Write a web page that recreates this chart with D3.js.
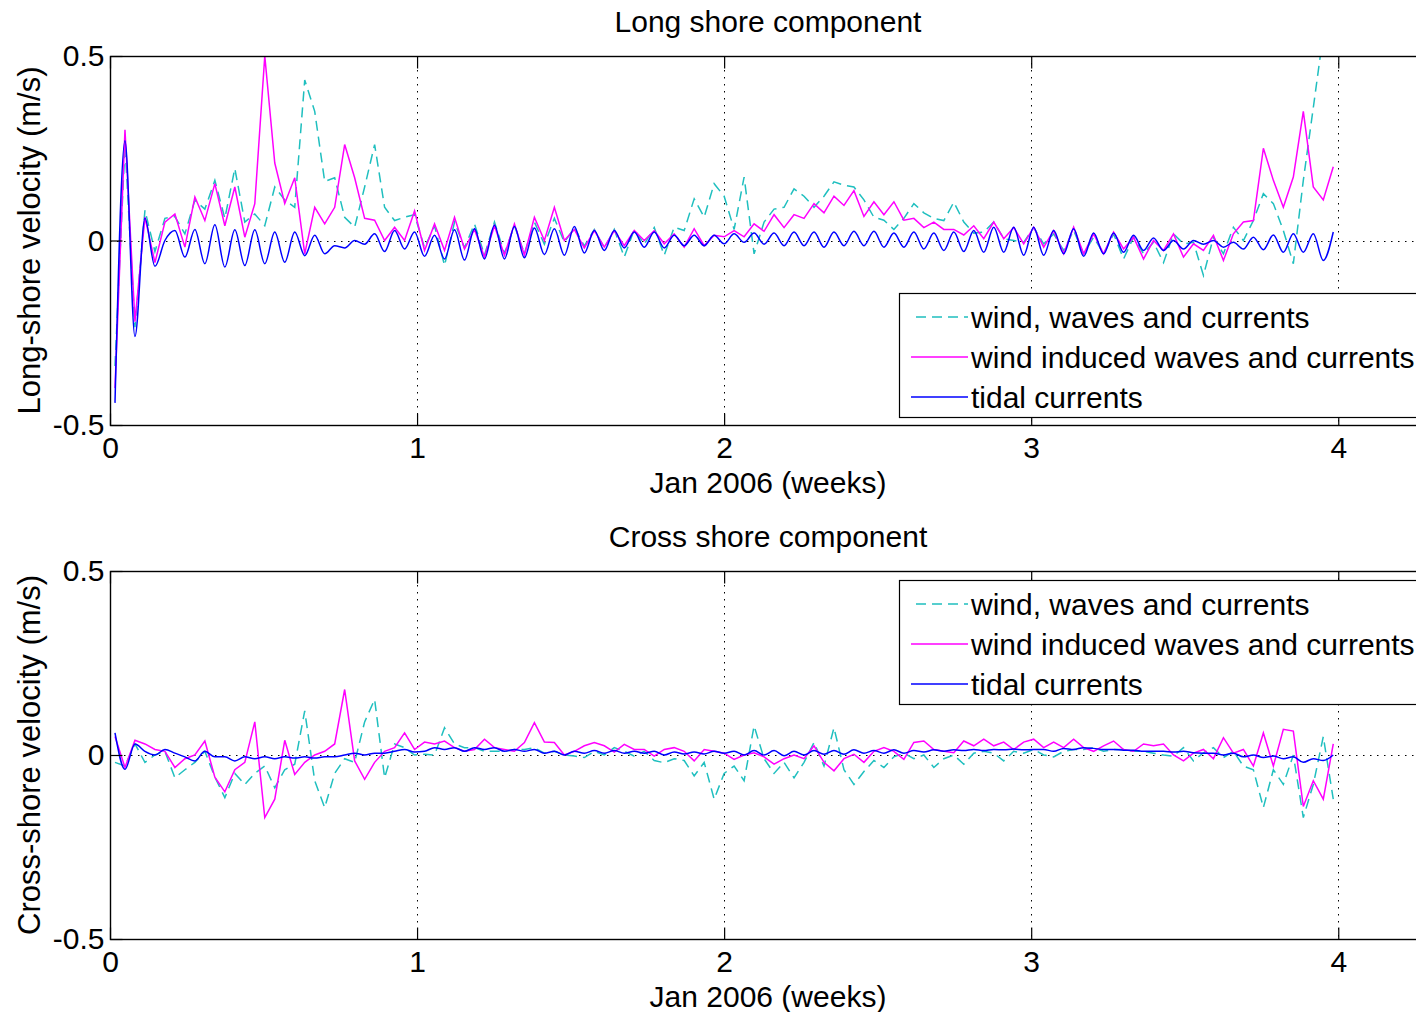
<!DOCTYPE html>
<html>
<head>
<meta charset="utf-8">
<script src="https://cdn.jsdelivr.net/npm/d3@7"></script>
<style>
  body { margin: 0; background: #ffffff; }
  svg text { font-family: "Liberation Sans", Arial, sans-serif; fill: #000; }
</style>
</head>
<body>
<div id="chart"></div>
<script>
// model output is sampled every STEP weeks, first sample half a step in
var STEP = 4 / 123;
var X_MAX = 30 / 7; // x axis runs over 30 days

var xTicks = [0, 1, 2, 3, 4];
var yTicks = [-0.5, 0, 0.5];
var seriesNames = ["wind, waves and currents", "wind induced waves and currents", "tidal currents"];

// Long shore component (m/s)
var longTotal = [
  -0.34, 0.26, -0.235, 0.082, -0.03, 0.06, 0.065, 0.018, 0.109, 0.085,
  0.163, 0.06, 0.195, 0.05, 0.072, 0.04, 0.145, 0.11, 0.09, 0.435,
  0.35, 0.16, 0.17, 0.063, 0.036, 0.145, 0.26, 0.09, 0.054, 0.063,
  0.07, -0.02, 0.04, -0.068, 0.05, -0.02, 0.045, -0.04, 0.05, -0.035,
  0.04, -0.035, 0.05, -0.01, 0.06, -0.005, 0.035, -0.015, 0.03, -0.02,
  0.03, -0.045, 0.03, -0.01, 0.035, -0.04, 0.036, 0.027, 0.113, 0.063,
  0.154, 0.12, 0.03, 0.172, -0.036, 0.05, 0.085, 0.09, 0.14, 0.12,
  0.09, 0.12, 0.159, 0.15, 0.145, 0.11, 0.063, 0.055, 0.03, 0.06,
  0.1, 0.075, 0.06, 0.054, 0.104, 0.05, 0.02, 0.023, 0.05, 0.005,
  0.0, -0.005, 0.035, -0.009, 0.018, -0.027, 0.027, -0.036, 0.009, -0.036,
  0.018, -0.05, 0.009, -0.036, -0.005, -0.06, 0.018, -0.009, -0.005, -0.095,
  0.009, -0.036, 0.036, 0.0, 0.054, 0.127, 0.1, 0.027, -0.063, 0.163,
  0.36, 0.56, 0.52
];
var longWind = [
  -0.40, 0.30, -0.22, 0.063, -0.06, 0.05, 0.072, -0.018, 0.118, 0.054,
  0.154, 0.04, 0.145, 0.009, 0.10, 0.50, 0.21, 0.10, 0.17, -0.036,
  0.09, 0.045, 0.09, 0.26, 0.17, 0.06, 0.055, 0.0, 0.036, 0.0,
  0.08, -0.027, 0.045, -0.027, 0.063, -0.023, 0.03, -0.045, 0.04, -0.04,
  0.045, -0.04, 0.063, 0.0, 0.09, 0.0, 0.03, -0.02, 0.027, -0.018,
  0.027, -0.014, 0.027, 0.0, 0.027, -0.009, 0.018, -0.018, 0.032, -0.014,
  0.014, 0.01, 0.027, 0.01, 0.045, 0.025, 0.07, 0.035, 0.07, 0.06,
  0.10, 0.075, 0.12, 0.095, 0.135, 0.065, 0.105, 0.07, 0.105, 0.055,
  0.06, 0.035, 0.05, 0.03, 0.03, 0.015, 0.04, 0.005, 0.05, 0.005,
  0.035, -0.009, 0.036, -0.018, 0.027, -0.036, 0.036, -0.036, 0.018, -0.036,
  0.023, -0.023, 0.009, -0.05, 0.0, -0.027, 0.018, -0.045, -0.009, -0.027,
  0.014, -0.054, 0.018, 0.05, 0.054, 0.25, 0.163, 0.09, 0.172, 0.35,
  0.145, 0.11, 0.2
];
var longTide = [
  -0.44, 0.27, -0.26, 0.06, -0.07, 0.0, 0.027, -0.045, 0.03, -0.063,
  0.043, -0.072, 0.029, -0.068, 0.029, -0.063, 0.023, -0.059, 0.023, -0.041,
  0.014, -0.036, -0.014, -0.02, 0.0, -0.01, 0.018, -0.03, 0.027, -0.023,
  0.023, -0.043, 0.014, -0.05, 0.029, -0.053, 0.032, -0.05, 0.041, -0.05,
  0.038, -0.047, 0.034, -0.038, 0.032, -0.04, 0.038, -0.034, 0.027, -0.027,
  0.027, -0.02, 0.023, -0.018, 0.023, -0.02, 0.014, -0.014, 0.014, -0.014,
  0.014, -0.009, 0.018, -0.005, 0.02, -0.01, 0.02, -0.014, 0.023, -0.014,
  0.023, -0.018, 0.023, -0.014, 0.025, -0.014, 0.025, -0.018, 0.02, -0.018,
  0.023, -0.023, 0.02, -0.027, 0.023, -0.03, 0.027, -0.032, 0.036, -0.032,
  0.036, -0.04, 0.036, -0.04, 0.027, -0.036, 0.032, -0.043, 0.02, -0.036,
  0.02, -0.032, 0.014, -0.027, 0.007, -0.027, 0.0, -0.023, 0.0, -0.01,
  0.0, -0.018, -0.005, -0.023, 0.009, -0.025, 0.015, -0.032, 0.018, -0.032,
  0.018, -0.054, 0.023
];

// Cross shore component (m/s)
var crossTotal = [
  -0.02, -0.03, 0.03, -0.02, 0.0, 0.01, -0.062, -0.04, -0.02, 0.01,
  -0.06, -0.116, -0.05, -0.08, -0.05, -0.03, -0.089, -0.04, -0.025, 0.12,
  -0.07, -0.143, -0.05, -0.01, -0.02, 0.09, 0.151, -0.062, 0.03, 0.02,
  0.0, 0.002, 0.0, 0.074, 0.03, 0.02, 0.02, 0.01, 0.01, 0.01,
  0.015, 0.015, 0.02, 0.005, 0.01, 0.0, -0.003, -0.007, 0.01, 0.0,
  0.02, 0.01, -0.003, 0.01, -0.015, -0.021, -0.01, -0.015, -0.057, -0.02,
  -0.12, -0.05, -0.03, -0.07, 0.079, -0.01, -0.05, -0.02, -0.062, -0.02,
  0.034, -0.03, 0.074, -0.04, -0.08, -0.045, -0.015, -0.034, -0.005, 0.005,
  -0.01, 0.0, -0.034, -0.01, 0.0, -0.025, 0.005, 0.01, 0.005, -0.016,
  0.01, 0.005, 0.015, 0.0, -0.005, 0.01, 0.015, 0.015, 0.02, 0.01,
  0.015, 0.015, 0.01, 0.01, 0.005, 0.0, -0.003, 0.02, -0.016, 0.006,
  0.02, -0.007, 0.01, -0.03, -0.04, -0.143, -0.04, -0.08, 0.0, -0.17,
  -0.08, 0.05, -0.12
];
var crossWind = [
  0.05, -0.034, 0.04, 0.03, 0.015, 0.01, -0.034, -0.01, 0.0, 0.038,
  -0.06, -0.1, -0.04, -0.02, 0.09, -0.17, -0.12, 0.04, -0.053, -0.02,
  0.0, 0.01, 0.03, 0.178, -0.016, -0.066, -0.02, 0.01, 0.02, 0.06,
  0.015, 0.035, 0.03, 0.038, 0.02, 0.01, 0.015, 0.043, 0.02, 0.015,
  0.01, 0.034, 0.088, 0.035, 0.034, 0.0, 0.01, 0.025, 0.034, 0.025,
  0.008, 0.029, 0.015, 0.015, -0.003, 0.015, 0.02, 0.01, -0.016, 0.015,
  0.01, 0.005, -0.012, 0.0, 0.006, -0.005, -0.025, -0.01, 0.0, -0.01,
  0.025, -0.02, -0.043, -0.01, 0.002, -0.02, 0.01, 0.02, 0.01, -0.012,
  0.034, 0.038, 0.015, 0.01, 0.006, 0.038, 0.025, 0.043, 0.025, 0.035,
  0.015, 0.035, 0.043, 0.02, 0.035, 0.02, 0.043, 0.02, 0.01, 0.025,
  0.038, 0.015, 0.01, 0.03, 0.025, 0.03, 0.0, -0.016, 0.005, 0.015,
  -0.01, 0.047, 0.005, 0.015, -0.03, 0.06, -0.03, 0.07, 0.065, -0.14,
  -0.07, -0.12, 0.03
];
var crossTide = [
  0.06, -0.039, 0.03, 0.01, 0.0, 0.015, 0.005, -0.005, -0.016, 0.01,
  -0.005, -0.005, -0.016, -0.005, -0.01, -0.005, -0.01, -0.005, -0.008, -0.005,
  -0.008, -0.005, -0.005, 0.0, 0.005, 0.0, 0.005, 0.005, 0.01, 0.015,
  0.008, 0.01, 0.02, 0.015, 0.02, 0.01, 0.02, 0.015, 0.02, 0.01,
  0.015, 0.01, 0.015, 0.005, 0.01, 0.0, 0.01, 0.005, 0.012, 0.005,
  0.012, 0.005, 0.01, 0.005, 0.01, 0.0, 0.008, 0.003, 0.008, 0.003,
  0.01, 0.005, 0.01, 0.0, 0.012, 0.0, 0.012, -0.002, 0.01, 0.0,
  0.012, 0.002, 0.012, 0.002, 0.014, 0.005, 0.012, 0.005, 0.014, 0.005,
  0.012, 0.008, 0.014, 0.01, 0.014, 0.012, 0.015, 0.012, 0.015, 0.014,
  0.016, 0.014, 0.015, 0.015, 0.01, 0.018, 0.015, 0.02, 0.018, 0.015,
  0.015, 0.013, 0.013, 0.01, 0.01, 0.01, 0.008, 0.01, 0.006, 0.005,
  0.005, 0.0, 0.005, -0.005, 0.0, -0.007, -0.003, -0.01, -0.005, -0.02,
  -0.01, -0.015, 0.0
];

var times = longTide.map(function (d, i) { return (i + 0.5) * STEP; });

var width = 1416,
    height = 1012,
    fontSize = 30,
    plotLeft = 110,
    plotRight = 1426;

var colors = ["#1fbfbf", "#ff00ff", "#0000ff"],
    dashes = ["10,6", null, null];

var svg = d3.select("#chart")
    .append("svg")
    .attr("width", width)
    .attr("height", height)
    .style("display", "block");

function renderPanel(id, top, bottom, title, yLabel, series, legendTop) {
    var x = d3.scaleLinear().domain([0, X_MAX]).range([plotLeft, plotRight]);
    var y = d3.scaleLinear().domain([-0.5, 0.5]).range([bottom, top]);

    var g = svg.append("g");

    g.append("clipPath")
        .attr("id", "clip-" + id)
        .append("rect")
        .attr("x", plotLeft)
        .attr("y", top)
        .attr("width", plotRight - plotLeft)
        .attr("height", bottom - top);

    // dotted grid at the x ticks and at zero
    g.selectAll(".vgrid")
        .data(xTicks.filter(function (d) { return d > 0; }))
        .enter().append("line")
        .attr("x1", function (d) { return Math.round(x(d)) + 0.5; })
        .attr("x2", function (d) { return Math.round(x(d)) + 0.5; })
        .attr("y1", top)
        .attr("y2", bottom)
        .style("stroke", "#000")
        .style("stroke-width", "1px")
        .style("stroke-dasharray", "1.5,5.5");

    g.append("line")
        .attr("x1", plotLeft)
        .attr("x2", plotRight)
        .attr("y1", Math.round(y(0)) + 0.5)
        .attr("y2", Math.round(y(0)) + 0.5)
        .style("stroke", "#000")
        .style("stroke-width", "1px")
        .style("stroke-dasharray", "1.5,5.5");

    var line = d3.line()
        .x(function (d) { return x(d[0]); })
        .y(function (d) { return y(d[1]); });

    var lines = g.append("g").attr("clip-path", "url(#clip-" + id + ")");
    series.forEach(function (values, k) {
        lines.append("path")
            .datum(values.map(function (v, i) { return [times[i], v]; }))
            .attr("d", line.curve(k == 2 ? d3.curveMonotoneX : d3.curveLinear))
            .style("fill", "none")
            .style("stroke", colors[k])
            .style("stroke-width", "1.5px")
            .style("stroke-dasharray", dashes[k]);
    });

    // axes box, ticks point inwards like matlab
    g.append("rect")
        .attr("x", plotLeft + 0.5)
        .attr("y", top + 0.5)
        .attr("width", plotRight - plotLeft)
        .attr("height", bottom - top)
        .style("fill", "none")
        .style("stroke", "#000")
        .style("stroke-width", "1.4px");

    var yAxis = g.append("g")
        .attr("transform", "translate(" + (plotLeft + 0.5) + ",0)")
        .call(d3.axisLeft(y).tickValues(yTicks).tickSizeInner(-12).tickSizeOuter(0)
            .tickPadding(6).tickFormat(function (d) { return String(d); }));

    var xAxis = g.append("g")
        .attr("transform", "translate(0," + (bottom + 0.5) + ")")
        .call(d3.axisBottom(x).tickValues(xTicks).tickSizeInner(-12).tickSizeOuter(0)
            .tickPadding(11).tickFormat(function (d) { return String(d); }));

    var xTop = g.append("g")
        .attr("transform", "translate(0," + (top + 0.5) + ")")
        .call(d3.axisTop(x).tickValues(xTicks).tickSizeInner(-12).tickSizeOuter(0)
            .tickFormat(""));

    [yAxis, xAxis, xTop].forEach(function (a) {
        a.selectAll("text").style("font-size", fontSize + "px").style("font-family", null);
        a.selectAll("line").style("stroke", "#000").style("stroke-width", "1.2px");
        a.select(".domain").remove();
    });

    g.append("text")
        .attr("x", (plotLeft + plotRight) / 2)
        .attr("y", top - 24)
        .attr("text-anchor", "middle")
        .style("font-size", fontSize + "px")
        .text(title);

    g.append("text")
        .attr("x", (plotLeft + plotRight) / 2)
        .attr("y", bottom + 68)
        .attr("text-anchor", "middle")
        .style("font-size", fontSize + "px")
        .text("Jan 2006 (weeks)");

    g.append("text")
        .attr("transform", "translate(40," + ((top + bottom) / 2) + ") rotate(-90)")
        .attr("text-anchor", "middle")
        .style("font-size", (fontSize + 1) + "px")
        .text(yLabel);

    // legend box
    var legend = g.append("g").attr("transform", "translate(899," + legendTop + ")");
    legend.append("rect")
        .attr("x", 0.5)
        .attr("y", 0.5)
        .attr("width", 600)
        .attr("height", 124)
        .style("fill", "#fff")
        .style("stroke", "#000")
        .style("stroke-width", "1.2px");

    seriesNames.forEach(function (name, k) {
        var ly = 24 + k * 40;
        legend.append("line")
            .attr("x1", k == 0 ? 17 : 12)
            .attr("x2", 69)
            .attr("y1", ly)
            .attr("y2", ly)
            .style("stroke", colors[k])
            .style("stroke-width", "1.5px")
            .style("stroke-dasharray", dashes[k]);
        legend.append("text")
            .attr("x", 72)
            .attr("y", ly)
            .attr("dy", "0.35em")
            .style("font-size", fontSize + "px")
            .text(name);
    });
}

renderPanel("long", 56, 425, "Long shore component", "Long-shore velocity (m/s)",
    [longTotal, longWind, longTide], 293);
renderPanel("cross", 571, 939, "Cross shore component", "Cross-shore velocity (m/s)",
    [crossTotal, crossWind, crossTide], 580);
</script>
</body>
</html>
